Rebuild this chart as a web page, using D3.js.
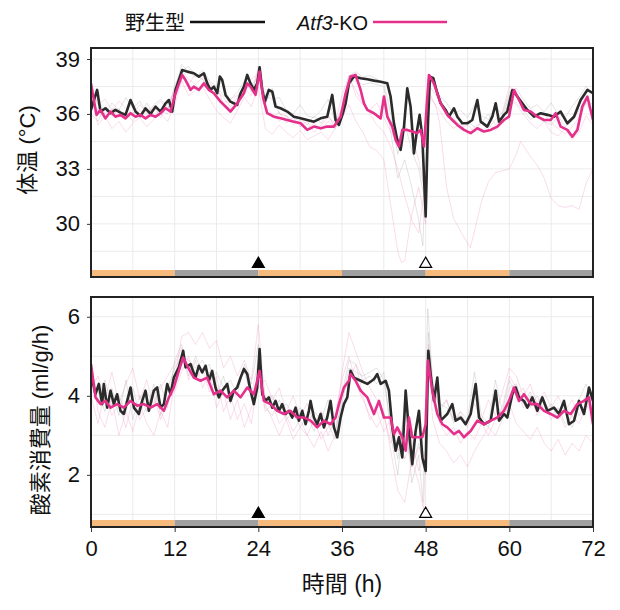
<!DOCTYPE html>
<head>
<meta charset="utf-8">
<script src="https://cdn.jsdelivr.net/npm/d3@7"></script>
<style>body{margin:0;background:#fff}</style>
</head>
<body>
<script>
// all series are [hour, value] pairs

// x axis
var xTicks = [0, 12, 24, 36, 48, 60, 72];
var xGrid = [6, 12, 18, 24, 30, 36, 42, 48, 54, 60, 66];
var phases = ['light', 'dark', 'light', 'dark', 'light', 'dark']; // 12 h each
var markers = [{t: 24, filled: true}, {t: 48, filled: false}];

// body temperature (°C)
var tempTicks = [30, 33, 36, 39];
var tempGrid = [28.5, 30, 31.5, 33, 34.5, 36, 37.5, 39];
var wtTemp = [[0,36.22],[0.88,37.31],[1.36,36.13],[2.08,36.31],[2.8,36.04],[3.5,36.22],[4.23,36.07],[4.95,35.95],[5.67,36.76],[6.39,36.13],[7.1,35.89],[7.82,36.31],[8.54,36.0],[9.25,36.4],[9.97,36.13],[10.69,36.58],[11.17,36.76],[11.65,36.13],[12.12,37.31],[12.6,37.85],[13.08,38.4],[13.8,38.31],[14.75,38.22],[15.47,38.04],[16.19,38.22],[16.67,37.67],[17.14,37.31],[17.62,37.49],[18.1,37.13],[18.48,38.04],[18.82,37.85],[19.3,37.04],[20.0,36.67],[20.97,36.49],[21.45,37.13],[21.93,37.49],[22.41,38.13],[22.88,37.67],[23.36,37.31],[23.84,37.67],[24.18,38.55],[24.56,37.31],[24.94,36.67],[25.5,37.31],[26.0,37.22],[26.47,36.4],[27.19,36.31],[28.14,36.13],[29.1,35.85],[30.06,35.76],[31.01,35.67],[31.97,35.58],[32.93,35.76],[33.88,35.85],[34.6,37.04],[35.08,35.67],[35.56,35.4],[36.1,36.0],[36.52,36.58],[37.0,37.67],[37.71,38.04],[38.67,37.95],[39.63,37.89],[40.58,37.82],[41.54,37.76],[42.5,37.67],[42.97,36.95],[43.45,35.49],[43.93,34.58],[44.41,34.04],[44.89,35.31],[45.36,37.4],[45.84,36.4],[46.32,33.85],[46.7,34.95],[47.13,35.95],[47.52,34.76],[48.0,30.4],[48.33,35.49],[48.62,38.04],[49.1,37.95],[49.67,37.13],[50.15,36.58],[50.86,36.22],[51.34,35.85],[52.06,36.31],[52.54,35.85],[53.26,35.49],[53.97,35.49],[54.69,35.67],[55.41,36.76],[55.89,35.58],[56.84,35.31],[57.56,35.85],[58.04,36.58],[58.52,35.58],[59.23,35.95],[59.71,36.13],[60.43,37.31],[61.15,36.95],[61.86,36.58],[62.58,36.22],[63.54,35.85],[64.49,36.04],[65.45,35.95],[66.41,35.85],[67.36,36.13],[68.32,35.49],[69.28,35.85],[70.23,36.76],[71.19,37.31],[72,37.13]];
var koTemp = [[0,37.67],[0.41,36.76],[0.79,35.95],[1.36,36.22],[2.08,35.76],[2.8,36.13],[3.5,35.85],[4.23,35.95],[4.95,35.76],[5.67,36.04],[6.39,35.85],[7.1,35.95],[7.82,35.76],[8.54,35.95],[9.25,35.85],[9.97,36.04],[10.69,36.31],[11.41,36.13],[11.98,36.95],[12.46,37.49],[13.08,38.13],[13.56,37.85],[14.28,37.31],[14.75,37.49],[15.47,37.31],[16.19,37.67],[16.91,37.31],[17.62,37.13],[18.58,36.67],[19.54,36.31],[20.0,36.13],[20.97,36.58],[21.93,37.13],[22.41,37.67],[22.88,37.49],[23.6,37.04],[24.18,38.31],[24.7,36.85],[25.27,36.04],[26.23,35.85],[27.19,35.76],[28.14,35.67],[29.1,35.58],[30.06,35.49],[31.01,35.13],[31.97,35.31],[32.93,35.22],[33.88,35.31],[34.84,35.31],[35.8,35.85],[36.52,37.13],[37.23,38.04],[37.95,38.13],[38.67,37.31],[39.15,36.58],[39.63,36.22],[40.58,36.04],[41.54,35.76],[42.02,36.95],[42.5,35.85],[43.21,35.31],[43.69,34.58],[44.17,34.22],[44.65,35.13],[45.36,35.13],[46.08,35.04],[46.8,34.95],[47.28,35.13],[47.76,34.22],[48.14,36.4],[48.47,38.13],[49.19,37.67],[50.15,36.58],[51.1,35.95],[51.82,35.67],[52.54,35.4],[53.5,35.13],[54.45,34.95],[55.41,35.22],[56.36,35.04],[57.32,35.13],[58.28,35.31],[59.23,35.67],[59.95,35.85],[60.67,37.31],[61.39,36.76],[62.1,36.22],[63.06,36.13],[64.02,35.85],[64.97,35.67],[65.93,35.67],[66.65,36.04],[67.36,35.31],[68.32,35.13],[69.04,34.76],[69.76,35.13],[70.47,36.4],[71.19,36.95],[72,35.67]];
// individual animals (faint)
var wtTempA = [[0,36.5],[1,36.8],[2,36.0],[3,36.6],[4,36.2],[5,36.9],[6,36.3],[7,36.7],[8,36.0],[9,36.5],[10,36.8],[11,36.3],[12,37.2],[13,38.7],[14,38.3],[15,38.0],[16,38.4],[17,37.8],[18,37.5],[19,37.0],[20,36.8],[21,37.2],[22,37.8],[23,37.2],[24,38.3],[25,37.0],[26,36.8],[27,36.9],[28,36.2],[29,36.0],[30,36.5],[31,35.9],[32,35.8],[33,36.2],[34,36.8],[35,35.6],[36,36.2],[37,38.1],[38,38.3],[39,38.0],[40,38.1],[41,37.9],[42,37.7],[43,36.0],[44,33.8],[45,35.5],[46,34.0],[47,33.0],[48,31.0],[48.5,37.9],[49.5,37.4],[50,37.0],[51,36.6],[52,36.0],[53,36.2],[54,35.8],[55,36.5],[56,35.9],[57,35.7],[58,36.4],[59,36.0],[60,37.2],[61,37.4],[62,36.8],[63,36.3],[64,36.5],[65,36.1],[66,36.6],[67,36.0],[68,35.8],[69,36.4],[70,36.9],[71,37.5],[72,37.0]];
var wtTempB = [[0,36.0],[1,35.6],[2,36.4],[3,35.9],[4,36.3],[5,35.7],[6,36.1],[7,35.8],[8,36.6],[9,35.9],[10,36.2],[11,36.0],[12,37.6],[13,38.3],[14,38.6],[15,38.1],[16,37.9],[17,37.2],[18,37.6],[19,36.5],[20,36.3],[21,36.6],[22,37.3],[23,37.6],[24,38.0],[25,36.5],[26,37.4],[27,36.0],[28,35.9],[29,35.6],[30,35.8],[31,35.4],[32,35.9],[33,35.5],[34,36.0],[35,35.2],[36,35.9],[37,37.8],[38,37.8],[39,37.6],[40,37.7],[41,37.6],[42,37.5],[43,35.0],[44,32.5],[45,33.5],[46,32.0],[47,30.2],[47.6,28.8],[48.4,37.6],[49.5,37.0],[50,36.8],[51,36.0],[52,35.7],[53,35.4],[54,35.6],[55,35.3],[56,35.5],[57,36.0],[58,35.4],[59,35.8],[60,37.0],[61,36.6],[62,36.2],[63,35.7],[64,35.9],[65,35.6],[66,35.4],[67,35.9],[68,35.3],[69,35.6],[70,36.2],[71,36.8],[72,36.5]];
var koTempA = [[0,37.0],[1,35.4],[2,35.9],[3,35.2],[4,35.6],[5,35.0],[6,35.5],[7,35.8],[8,35.3],[9,35.7],[10,36.0],[11,35.6],[12,36.5],[13,37.8],[14,37.0],[15,37.3],[16,37.5],[17,36.8],[18,36.2],[19,35.8],[20,35.5],[21,36.2],[22,36.9],[23,36.4],[24,37.5],[25,35.2],[26,34.9],[27,35.4],[28,35.0],[29,34.7],[30,35.1],[31,34.6],[32,34.8],[33,35.0],[34,34.6],[35,35.2],[36,35.8],[37,36.5],[38,35.6],[39,35.0],[40,34.2],[41,34.0],[42,33.5],[43,31.0],[44,28.5],[44.5,27.9],[45,28.0],[46,30.5],[47,32.0],[48,30.0],[48.5,37.0],[49.5,36.4],[50,36.2],[51,35.6],[52,35.2],[53,35.5],[54,34.9],[55,35.3],[56,35.0],[57,35.4],[58,35.1],[59,35.6],[60,36.8],[61,36.5],[62,36.0],[63,35.5],[64,35.2],[65,35.6],[66,35.0],[67,34.8],[68,35.2],[69,34.6],[70,35.0],[71,35.9],[72,35.4]];
var koTempB = [[0,36.8],[1,36.2],[2,35.7],[3,36.3],[4,35.8],[5,36.1],[6,35.6],[7,36.2],[8,35.9],[9,36.4],[10,35.8],[11,36.6],[12,37.2],[13,38.0],[14,37.6],[15,38.2],[16,37.9],[17,37.4],[18,36.9],[19,36.6],[20,36.8],[21,37.0],[22,37.4],[23,37.0],[24,38.6],[25,36.4],[26,36.0],[27,35.6],[28,35.9],[29,35.4],[30,35.7],[31,35.2],[32,35.5],[33,35.1],[34,35.6],[35,35.3],[36,36.4],[37,37.9],[38,37.3],[39,36.6],[40,36.0],[41,35.4],[42,35.0],[43,34.2],[44,33.0],[45,31.5],[46,30.2],[47,29.5],[48,32.5],[48.5,37.2],[49.5,36.4],[50,35.5],[51,32.0],[52,30.3],[53,29.6],[54.4,28.7],[55,29.6],[56,31.2],[57,32.3],[58,32.8],[59,32.9],[60,33.0],[61,33.8],[61.6,34.5],[63,33.7],[64,33.2],[65,32.5],[66,31.4],[67,31.0],[68,30.9],[69,31.0],[70,30.8],[71,32.2],[72,33.0]];
var koTempC = [[0,37.4],[1,36.5],[2,36.8],[3,36.2],[4,36.7],[5,36.3],[6,36.0],[7,36.5],[8,36.1],[9,36.3],[10,36.7],[11,36.2],[12,37.4],[13,38.4],[14,37.9],[15,37.6],[16,38.0],[17,37.7],[18,37.2],[19,36.9],[20,36.4],[21,36.9],[22,37.6],[23,37.9],[24,38.2],[25,36.2],[26,35.8],[27,36.1],[28,35.5],[29,35.8],[30,35.3],[31,35.6],[32,35.0],[33,35.4],[34,35.8],[35,35.5],[36,37.0],[37,38.1],[38,37.0],[39,36.5],[40,36.2],[41,36.6],[42,35.8],[43,35.0],[44,34.6],[45,35.3],[46,34.8],[47,33.5],[48,31.5],[48.5,38.0],[49.5,37.2],[50,36.9],[51,36.0],[52,35.8],[53,35.2],[54,35.4],[55,35.0],[56,35.6],[57,35.2],[58,35.7],[59,36.1],[60,37.5],[61,37.1],[62,36.5],[63,36.2],[64,35.8],[65,36.0],[66,35.5],[67,35.2],[68,34.9],[69,35.3],[70,35.8],[71,36.6],[72,35.9]];

// oxygen consumption (ml/g/h)
var o2Ticks = [2, 4, 6];
var o2Grid = [1, 2, 3, 4, 5, 6];
var wtO2 = [[0,4.55],[0.65,4.04],[1.12,4.3],[1.6,3.79],[1.84,4.3],[2.32,3.7],[2.8,4.13],[3.28,3.79],[3.75,4.04],[4.23,3.62],[4.71,3.54],[5.19,3.87],[5.67,4.21],[6.15,3.7],[6.86,3.54],[7.34,3.87],[7.82,4.13],[8.3,3.62],[9.01,4.13],[9.49,4.21],[9.97,3.7],[10.45,3.79],[10.93,4.3],[11.41,4.04],[11.88,4.46],[12.6,4.72],[13.22,5.14],[13.56,4.72],[14.28,4.8],[14.99,4.46],[15.47,4.76],[15.95,4.59],[16.43,4.76],[16.91,4.38],[17.38,4.63],[17.86,4.21],[18.34,3.96],[18.82,4.13],[19.54,4.3],[20.01,3.87],[20.49,4.13],[20.97,4.21],[21.45,4.46],[21.93,4.68],[22.41,4.55],[22.88,4.13],[23.36,3.79],[23.84,4.21],[24.18,5.18],[24.56,4.04],[25.04,3.87],[25.51,3.96],[25.99,3.7],[26.47,3.87],[26.95,3.62],[27.43,3.79],[27.91,3.54],[28.38,3.62],[28.86,3.45],[29.34,3.7],[29.82,3.37],[30.3,3.62],[30.78,3.28],[31.25,3.62],[31.49,3.87],[31.97,3.45],[32.45,3.28],[32.93,3.54],[33.41,3.2],[33.88,3.45],[34.36,3.87],[34.84,3.2],[35.32,2.95],[35.8,3.45],[36.27,3.79],[36.76,3.96],[37.23,4.63],[37.71,4.46],[38.67,4.38],[39.63,4.3],[40.58,4.42],[41.06,4.55],[41.54,4.3],[42.26,4.38],[42.73,4.13],[43.21,3.2],[43.69,2.61],[44.17,2.95],[44.65,2.44],[45.13,4.13],[45.6,3.11],[46.08,2.27],[46.56,3.11],[47.04,3.62],[47.52,2.44],[48.0,2.1],[48.38,5.14],[48.71,4.55],[49.19,3.87],[49.67,4.46],[50.15,3.37],[51.1,3.54],[51.82,3.79],[52.3,3.37],[53.02,3.45],[53.73,3.28],[54.45,3.54],[55.17,4.3],[55.65,3.45],[56.36,3.28],[57.32,3.37],[58.04,4.13],[58.52,3.37],[59.23,3.54],[59.71,3.45],[60.43,4.04],[60.91,4.21],[61.39,3.96],[62.1,3.87],[62.58,3.7],[63.3,3.96],[64.02,3.62],[64.73,3.96],[65.45,3.62],[66.41,3.7],[67.12,3.54],[67.84,3.87],[68.56,3.28],[69.28,3.37],[69.99,3.87],[70.71,3.54],[71.43,4.21],[72,3.87]];
var koO2 = [[0,4.8],[0.65,3.96],[1.36,3.79],[2.08,3.87],[2.8,3.7],[3.75,3.79],[4.71,3.7],[5.67,3.87],[6.62,3.75],[7.58,3.79],[8.54,3.7],[9.49,3.79],[10.45,3.62],[11.17,3.96],[11.88,4.21],[12.6,4.63],[13.22,4.97],[13.8,4.76],[14.75,4.46],[15.71,4.38],[16.67,4.46],[17.62,4.04],[18.58,4.13],[19.54,3.96],[20.49,4.13],[21.45,3.96],[22.41,4.21],[23.36,4.04],[24.18,4.63],[24.8,3.87],[25.75,3.79],[26.71,3.62],[27.67,3.54],[28.62,3.62],[29.58,3.45],[30.54,3.45],[31.49,3.37],[32.45,3.2],[33.41,3.37],[34.36,3.28],[35.08,3.45],[35.56,3.79],[36.27,4.21],[36.99,4.38],[37.23,4.55],[37.95,4.38],[38.67,4.13],[39.63,3.96],[40.58,3.54],[41.3,3.87],[42.02,3.45],[42.97,3.45],[43.45,3.03],[43.93,3.2],[44.65,2.95],[45.13,2.61],[45.6,3.45],[46.08,2.95],[46.8,2.95],[47.52,2.95],[48.0,3.28],[48.33,4.89],[48.95,4.13],[49.67,3.54],[50.39,3.28],[51.1,3.2],[52.06,3.03],[52.78,3.11],[53.49,2.95],[54.45,3.11],[55.41,3.37],[56.36,3.28],[57.32,3.37],[58.28,3.45],[59.23,3.62],[59.95,3.87],[60.67,4.21],[61.39,3.87],[62.1,4.04],[63.06,3.79],[64.02,3.79],[64.97,3.62],[65.93,3.54],[66.89,3.45],[67.84,3.62],[68.8,3.54],[69.76,3.79],[70.71,3.87],[71.43,3.96],[72,3.28]];
var wtO2A = [[0,4.6],[1,4.1],[2,3.6],[3,4.2],[4,3.5],[5,4.4],[6,3.4],[7,4.0],[8,3.6],[9,4.3],[10,3.5],[11,4.2],[12,4.7],[13,5.0],[14,4.9],[15,4.7],[16,4.9],[17,4.4],[18,4.6],[19,4.2],[20,4.4],[21,4.0],[22,4.8],[23,4.3],[24,5.3],[25,3.9],[26,4.0],[27,3.6],[28,3.8],[29,3.5],[30,3.7],[31,3.3],[32,3.6],[33,3.4],[34,3.9],[35,3.1],[36,3.8],[37,4.7],[38,4.6],[39,4.5],[40,4.6],[41,4.7],[42,4.4],[43,3.3],[44,2.4],[45,3.6],[46,2.2],[47,2.8],[48,2.0],[48.4,5.6],[49,4.2],[50,3.8],[51,3.7],[52,3.4],[53,3.5],[54,3.3],[55,4.0],[56,3.4],[57,3.2],[58,3.9],[59,3.5],[60,4.2],[61,4.3],[62,3.8],[63,4.1],[64,3.6],[65,3.9],[66,3.5],[67,3.7],[68,3.3],[69,3.5],[70,3.9],[71,4.3],[72,3.8]];
var wtO2B = [[0,4.3],[1,3.8],[2,4.4],[3,3.7],[4,4.0],[5,3.6],[6,4.2],[7,3.5],[8,4.1],[9,3.8],[10,4.3],[11,3.7],[12,4.9],[13,5.3],[14,4.5],[15,5.0],[16,4.6],[17,4.8],[18,4.0],[19,4.5],[20,3.8],[21,4.3],[22,4.6],[23,4.0],[24,4.9],[25,3.7],[26,3.5],[27,3.9],[28,3.4],[29,3.6],[30,3.2],[31,3.5],[32,3.1],[33,3.6],[34,3.3],[35,2.9],[36,4.0],[37,4.9],[38,4.8],[39,4.4],[40,4.5],[41,4.3],[42,4.6],[43,3.0],[44,2.0],[45,3.9],[46,1.8],[47,2.5],[47.6,1.3],[48.3,6.2],[49,4.4],[50,3.6],[51,3.9],[52,3.3],[53,3.6],[54,3.4],[55,4.6],[56,3.5],[57,3.3],[58,4.4],[59,3.6],[60,4.4],[61,4.0],[62,4.2],[63,3.7],[64,4.0],[65,3.6],[66,3.8],[67,3.4],[68,3.6],[69,3.2],[70,3.7],[71,4.0],[72,3.6]];
var koO2A = [[0,4.9],[1,3.6],[2,3.2],[3,3.9],[4,3.0],[5,3.6],[6,3.1],[7,3.8],[8,3.3],[9,3.0],[10,3.6],[11,3.2],[12,4.4],[13,5.5],[14,5.6],[15,5.3],[16,5.6],[17,5.2],[18,5.4],[19,4.7],[20,5.0],[21,4.5],[22,4.9],[23,4.4],[24,5.8],[25,3.8],[26,3.4],[27,3.0],[28,3.4],[29,2.9],[30,3.2],[31,3.0],[32,2.7],[33,3.1],[34,2.6],[35,3.0],[36,4.6],[37,5.6],[38,5.1],[39,4.6],[40,4.2],[41,3.9],[42,3.6],[43,2.6],[44,1.6],[45,1.3],[46,2.4],[47,1.8],[47.7,1.1],[48.4,5.0],[49,3.4],[50,2.8],[51,2.6],[52,2.3],[53,2.5],[54,2.2],[55,2.6],[56,2.9],[57,3.2],[58,3.0],[59,3.4],[60,3.8],[61,3.3],[62,3.1],[63,2.9],[64,3.2],[65,2.8],[66,2.6],[67,2.9],[68,2.5],[69,2.8],[70,2.6],[71,3.0],[72,2.8]];
var koO2B = [[0,4.2],[1,4.5],[2,3.9],[3,4.6],[4,3.8],[5,4.3],[6,4.7],[7,3.9],[8,4.4],[9,3.7],[10,4.2],[11,4.5],[12,4.8],[13,5.2],[14,4.4],[15,4.9],[16,4.2],[17,4.6],[18,3.7],[19,4.1],[20,3.4],[21,3.9],[22,3.2],[23,3.7],[24,4.2],[25,4.4],[26,3.9],[27,4.2],[28,3.6],[29,4.0],[30,3.5],[31,3.8],[32,3.3],[33,3.6],[34,3.0],[35,3.4],[36,4.0],[37,4.4],[38,4.8],[39,4.0],[40,3.4],[41,3.6],[42,3.1],[43,3.4],[44,2.6],[45,3.0],[46,2.2],[47,2.7],[48,2.3],[48.4,4.6],[49,4.2],[50,3.7],[51,3.9],[52,3.4],[53,3.6],[54,3.2],[55,3.8],[56,3.4],[57,3.9],[58,3.5],[59,4.1],[60,4.7],[61,4.5],[62,4.0],[63,4.3],[64,3.8],[65,4.1],[66,3.7],[67,4.0],[68,3.6],[69,3.9],[70,3.5],[71,3.8],[72,3.5]];
var koO2C = [[0,4.0],[1,3.3],[2,4.1],[3,3.5],[4,3.8],[5,3.2],[6,3.9],[7,3.4],[8,3.7],[9,4.0],[10,3.4],[11,3.9],[12,4.1],[13,4.6],[14,5.0],[15,4.4],[16,4.7],[17,4.1],[18,4.5],[19,3.6],[20,4.0],[21,3.4],[22,3.8],[23,3.3],[24,4.5],[25,3.6],[26,3.8],[27,3.3],[28,3.5],[29,3.1],[30,3.4],[31,3.0],[32,3.4],[33,2.9],[34,3.2],[35,3.5],[36,4.4],[37,5.0],[38,4.3],[39,3.9],[40,3.5],[41,3.2],[42,3.5],[43,2.8],[44,3.1],[45,2.4],[46,2.9],[47,2.1],[48,2.6],[48.4,5.3],[49,3.9],[50,3.3],[51,3.0],[52,3.2],[53,2.8],[54,3.1],[55,2.9],[56,3.3],[57,3.0],[58,3.4],[59,3.7],[60,4.5],[61,4.2],[62,3.7],[63,4.0],[64,3.5],[65,3.8],[66,3.4],[67,3.6],[68,3.2],[69,3.5],[70,3.3],[71,3.7],[72,3.9]];

var W = 620, H = 610;
var font = '"Liberation Sans", Arial, "Noto Sans CJK JP", sans-serif';
var black = '#2b2b2b', magenta = '#e4308a';

var svg = d3.select('body').append('svg')
  .attr('width', W)
  .attr('height', H)
  .style('font-family', font);

var x = d3.scaleLinear().domain([0, 72]).range([91, 593]);

var panels = [
  {id: 'temp', top: 48, bottom: 277, domain: [27.1, 39.6], ticks: tempTicks, grid: tempGrid,
   wt: wtTemp, ko: koTemp, wtFaint: [wtTempA, wtTempB], koFaint: [koTempA, koTempB, koTempC],
   label: '体温 (°C)', labelX: 27, labelY: 150},
  {id: 'o2', top: 297, bottom: 527, domain: [0.68, 6.5], ticks: o2Ticks, grid: o2Grid,
   wt: wtO2, ko: koO2, wtFaint: [wtO2A, wtO2B], koFaint: [koO2A, koO2B, koO2C],
   label: '酸素消費量 (ml/g/h)', labelX: 40, labelY: 420}
];

panels.forEach(function(p) {
  var y = d3.scaleLinear().domain(p.domain).range([p.bottom, p.top]);
  var g = svg.append('g');

  svg.append('clipPath').attr('id', 'clip-' + p.id)
    .append('rect')
    .attr('x', x(0)).attr('y', p.top)
    .attr('width', x(72) - x(0)).attr('height', p.bottom - p.top);

  // grid
  g.selectAll('.vg').data(xGrid).enter().append('line')
    .attr('x1', function(d){ return x(d); }).attr('x2', function(d){ return x(d); })
    .attr('y1', p.top).attr('y2', p.bottom)
    .attr('stroke', '#ebebeb').attr('stroke-width', 1);
  g.selectAll('.hg').data(p.grid).enter().append('line')
    .attr('x1', x(0)).attr('x2', x(72))
    .attr('y1', function(d){ return y(d); }).attr('y2', function(d){ return y(d); })
    .attr('stroke', '#ebebeb').attr('stroke-width', 1);

  var line = d3.line()
    .x(function(d){ return x(d[0]); })
    .y(function(d){ return y(d[1]); });

  var lines = g.append('g').attr('clip-path', 'url(#clip-' + p.id + ')');
  p.wtFaint.forEach(function(s) {
    lines.append('path').datum(s).attr('d', line)
      .attr('fill', 'none').attr('stroke', '#b8b8b8').attr('stroke-opacity', 0.4).attr('stroke-width', 1);
  });
  p.koFaint.forEach(function(s) {
    lines.append('path').datum(s).attr('d', line)
      .attr('fill', 'none').attr('stroke', '#f08cbc').attr('stroke-opacity', 0.3).attr('stroke-width', 1);
  });
  lines.append('path').datum(p.wt).attr('d', line)
    .attr('fill', 'none').attr('stroke', black).attr('stroke-width', 2.6).attr('stroke-linejoin', 'round');
  lines.append('path').datum(p.ko).attr('d', line)
    .attr('fill', 'none').attr('stroke', magenta).attr('stroke-width', 2.6).attr('stroke-linejoin', 'round');

  // light / dark bar
  g.selectAll('.phase').data(phases).enter().append('rect')
    .attr('x', function(d, i){ return x(i * 12); })
    .attr('width', x(12) - x(0))
    .attr('y', p.bottom - 7).attr('height', 7)
    .attr('fill', function(d){ return d === 'light' ? '#f6bb7c' : '#a0a0a0'; });

  // injection markers
  g.selectAll('.mk').data(markers).enter().append('path')
    .attr('d', d3.symbol().type(d3.symbolTriangle).size(62))
    .attr('transform', function(d){ return 'translate(' + x(d.t) + ',' + (p.bottom - 13) + ')'; })
    .attr('fill', function(d){ return d.filled ? '#000' : '#fff'; })
    .attr('stroke', '#000').attr('stroke-width', 1.2);

  // frame
  g.append('rect')
    .attr('x', x(0)).attr('y', p.top)
    .attr('width', x(72) - x(0)).attr('height', p.bottom - p.top)
    .attr('fill', 'none').attr('stroke', '#222').attr('stroke-width', 2);

  // y axis
  var ya = g.append('g').attr('transform', 'translate(' + (x(0) - 1) + ',0)')
    .call(d3.axisLeft(y).tickValues(p.ticks).tickFormat(d3.format('d')).tickSize(3).tickPadding(7));
  ya.select('.domain').remove();
  ya.selectAll('text').style('font-size', '22px').style('font-family', font).attr('fill', '#111');
  ya.selectAll('line').attr('stroke', '#333');

  svg.append('text')
    .attr('transform', 'translate(' + p.labelX + ',' + p.labelY + ') rotate(-90)')
    .attr('dy', '0.35em')
    .attr('text-anchor', 'middle')
    .style('font-size', '22px')
    .attr('fill', '#111')
    .text(p.label);

  if (p.id === 'o2') {
    var xa = g.append('g').attr('transform', 'translate(0,' + (p.bottom + 1) + ')')
      .call(d3.axisBottom(x).tickValues(xTicks).tickSize(4).tickPadding(8));
    xa.select('.domain').remove();
    xa.selectAll('text').style('font-size', '22px').style('font-family', font).attr('fill', '#111');
    xa.selectAll('line').attr('stroke', '#333');
  }
});

svg.append('text')
  .attr('x', (x(0) + x(72)) / 2).attr('y', 592)
  .attr('text-anchor', 'middle')
  .style('font-size', '23px')
  .attr('fill', '#111')
  .text('時間 (h)');

// legend
var legend = svg.append('g');
legend.append('text').attr('x', 185).attr('y', 30).attr('text-anchor', 'end')
  .style('font-size', '20px').attr('fill', '#111').text('野生型');
legend.append('line').attr('x1', 190).attr('x2', 265).attr('y1', 22).attr('y2', 22)
  .attr('stroke', '#111').attr('stroke-width', 2.5);
var koText = legend.append('text').attr('x', 297).attr('y', 30)
  .style('font-size', '20px').attr('fill', '#111');
koText.append('tspan').style('font-style', 'italic').text('Atf3');
koText.append('tspan').text('-KO');
legend.append('line').attr('x1', 373).attr('x2', 447).attr('y1', 22).attr('y2', 22)
  .attr('stroke', magenta).attr('stroke-width', 2.5);
</script>
</body>
